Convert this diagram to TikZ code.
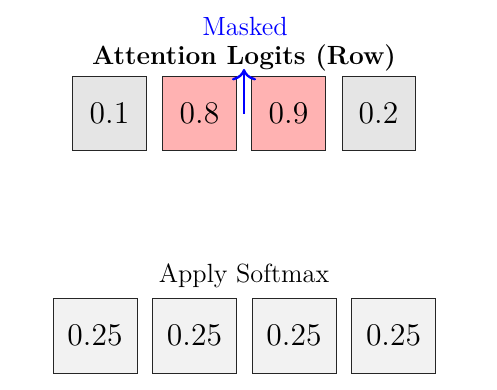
\documentclass[tikz,border=0pt]{standalone}
\usetikzlibrary{arrows.meta}
\begin{document}
\begin{tikzpicture}[x=0.456pt,y=-0.456pt,
  cell/.style={draw=black!85, line width=0.45pt, minimum width=33.3pt, minimum height=33.3pt, inner sep=0pt, font=\Large},
  topgray/.style={cell, fill=gray!20},
  topred/.style={cell, fill=red!30},
  botcell/.style={draw=black!85, line width=0.45pt, fill=gray!10, minimum width=38.3pt, minimum height=34.2pt, inner sep=0pt, font=\Large},
  lbl/.style={font=\large, inner sep=0pt}]
\useasboundingbox (0,0) rectangle (497,390);
\node[topgray] (a1) at (109.5,113.5) {0.1};
\node[topred]  (a2) at (199.5,113.5) {0.8};
\node[topred]  (a3) at (288.5,113.5) {0.9};
\node[topgray] (a4) at (378.5,113.5) {0.2};
\node[lbl, font=\large\bfseries] (title) at (244,58) {Attention Logits (Row)};
\coordinate (mstart) at (244,114);
\coordinate (mend) at (244,69);
\draw[-{To[scale=1.3]}, blue, line width=1.1pt] (mstart) -- (mend);
\node[lbl, text=blue] (masked) at (245,27) {Masked};
\node[lbl] (soft) at (244,276) {Apply Softmax};
\node[botcell] (b1) at (95,335.5) {0.25};
\node[botcell] (b2) at (194.5,335.5) {0.25};
\node[botcell] (b3) at (294,335.5) {0.25};
\node[botcell] (b4) at (393.5,335.5) {0.25};
\end{tikzpicture}
\end{document}
